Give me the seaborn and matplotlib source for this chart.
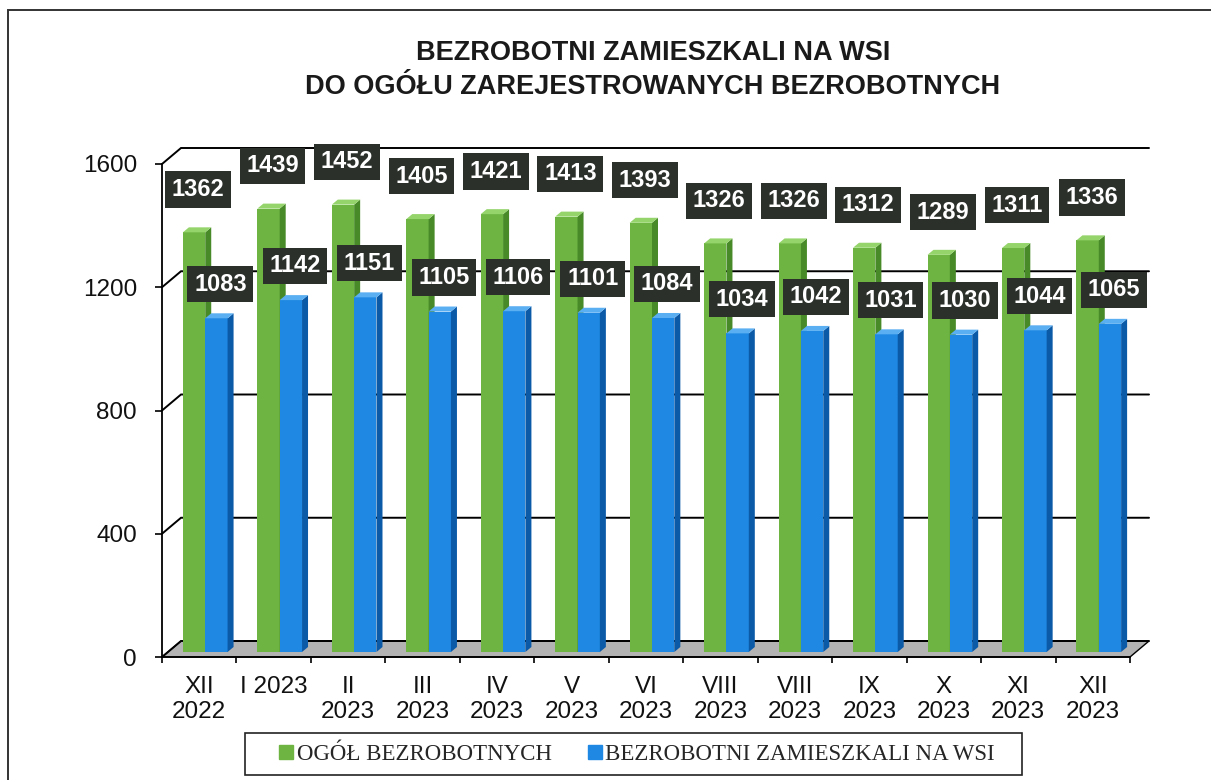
import numpy as np
import pandas as pd
import matplotlib
matplotlib.use("Agg")
import matplotlib.pyplot as plt
import seaborn as sns
from matplotlib.patches import Polygon, Rectangle
from matplotlib.lines import Line2D

# ---------------- data ----------------
months = ["XII\n2022", "I 2023", "II\n2023", "III\n2023", "IV\n2023", "V\n2023",
          "VI\n2023", "VIII\n2023", "VIII\n2023", "IX\n2023", "X\n2023",
          "XI\n2023", "XII\n2023"]
ogol = [1362, 1439, 1452, 1405, 1421, 1413, 1393, 1326, 1326, 1312, 1289, 1311, 1336]
wies = [1083, 1142, 1151, 1105, 1106, 1101, 1084, 1034, 1042, 1031, 1030, 1044, 1065]
series_names = ["OGÓŁ BEZROBOTNYCH", "BEZROBOTNI ZAMIESZKALI NA WSI"]
yticks = [0, 400, 800, 1200, 1600]
title_lines = ["BEZROBOTNI ZAMIESZKALI NA WSI", "DO OGÓŁU ZAREJESTROWANYCH BEZROBOTNYCH"]

# ---------------- style ----------------
sns.set_style("white")
plt.rcParams["font.family"] = ["Liberation Sans", "DejaVu Sans"]

GREEN = "#6db443"
GREEN_SIDE = "#478a27"
GREEN_TOP = "#94d46a"
BLUE = "#1e88e2"
BLUE_SIDE = "#0b5aa8"
BLUE_TOP = "#5aaef2"
LABEL_BG = "#2b302b"

W, H = 1211, 780
fig = plt.figure(figsize=(W / 100, H / 100), dpi=100)

# axes placed in pixel geometry
ax_l, ax_r, ax_b, ax_t = 162, 1130, 657, 164
ax = fig.add_axes([ax_l / W, 1 - ax_b / H, (ax_r - ax_l) / W, (ax_b - ax_t) / H])

n = len(months)
df = pd.DataFrame({
    "idx": list(range(n)) * 2,
    "value": ogol + wies,
    "series": [series_names[0]] * n + [series_names[1]] * n,
})

sns.barplot(data=df, x="idx", y="value", hue="series", hue_order=series_names,
            palette=[GREEN, BLUE], width=0.6, saturation=1, legend=False,
            linewidth=0, edgecolor="none", ax=ax)

ax.set_xlim(-0.5, n - 0.5)
ax.set_ylim(0, 1600)
ax.set_xlabel("")
ax.set_ylabel("")

# pixel -> data conversions
ppx = (ax_r - ax_l) / n
ppy = (ax_b - ax_t) / 1600.0
def dx(px):
    return px / ppx
def dy(px):
    return px / ppy

WX, WY = dx(19), dy(16)      # wall depth
SX, SY = dx(6), dy(5)        # bar shift into depth
BX, BY = dx(6), dy(5)        # bar depth

# floor
floor = Polygon([(-0.5, 0), (n - 0.5, 0), (n - 0.5 + WX, WY), (-0.5 + WX, WY)],
                closed=True, facecolor="#b3b3b3", edgecolor="black", lw=1.0,
                zorder=0.5, clip_on=False)
ax.add_patch(floor)

# grid lines on back wall with left side connectors
for v in yticks:
    ax.plot([-0.5, -0.5 + WX, n - 0.5 + WX], [v, v + WY, v + WY],
            color="black", lw=1.4, zorder=0.8, clip_on=False,
            solid_joinstyle="miter")

# 3-D bars built from seaborn's bar patches
cols = [(GREEN, GREEN_SIDE, GREEN_TOP), (BLUE, BLUE_SIDE, BLUE_TOP)]
label_off = [155, 127]
for si, cont in enumerate(ax.containers):
    front_c, side_c, top_c = cols[si]
    zf = 2 + si * 0.2
    for bar in cont:
        x0 = bar.get_x() + SX
        w = bar.get_width()
        h = bar.get_height()
        x1 = x0 + w
        y0 = SY
        y1 = h + SY
        bar.set_x(x0)
        bar.set_y(y0)
        bar.set_zorder(zf)
        bar.set_clip_on(False)
        side = Polygon([(x1, y0), (x1 + BX, y0 + BY), (x1 + BX, y1 + BY), (x1, y1)],
                       closed=True, facecolor=side_c, edgecolor="none",
                       zorder=zf + 0.1, clip_on=False)
        top = Polygon([(x0, y1), (x1, y1), (x1 + BX, y1 + BY), (x0 + BX, y1 + BY)],
                      closed=True, facecolor=top_c, edgecolor="none",
                      zorder=zf + 0.1, clip_on=False)
        ax.add_patch(side)
        ax.add_patch(top)
        ax.text(x0 + w / 2 + dx(4), h + label_off[si], f"{int(round(h))}",
                ha="center", va="center", color="white", fontsize=17,
                fontweight="bold", zorder=5 + si, clip_on=False,
                bbox=dict(boxstyle="square,pad=0.28", facecolor=LABEL_BG,
                          edgecolor="none"))

# spines and ticks
for s in ["top", "right"]:
    ax.spines[s].set_visible(False)
for s in ["left", "bottom"]:
    ax.spines[s].set_visible(True)
    ax.spines[s].set_color("black")
    ax.spines[s].set_linewidth(1.3)
    ax.spines[s].set_zorder(1)

ax.set_yticks(yticks)
ax.set_yticklabels([str(v) for v in yticks])
ax.set_xticks(range(n))
ax.set_xticklabels(months, linespacing=1.15)
ax.set_xticks(np.arange(-0.5, n, 1.0), minor=True)
ax.tick_params(axis="y", which="major", left=True, direction="out", length=5,
               width=1.2, color="black", pad=13, labelsize=17.5, labelcolor="#111111")
ax.tick_params(axis="x", which="major", bottom=True, length=0, pad=14,
               labelsize=17.5, labelcolor="#111111")
ax.tick_params(axis="x", which="minor", bottom=True, direction="out", length=4.5,
               width=1.2, color="black")
ax.set_facecolor("none")

# title
fig.text(653 / W, 1 - 53 / H, title_lines[0], ha="center", va="center",
         fontsize=19.5, fontweight="bold", color="#1a1a1a")
fig.text(653 / W, 1 - 87 / H, title_lines[1], ha="center", va="center",
         fontsize=19.5, fontweight="bold", color="#1a1a1a")

# legend
handles = [Line2D([], [], marker="s", ls="", color=GREEN, markersize=9.5),
           Line2D([], [], marker="s", ls="", color=BLUE, markersize=9.5)]
fig.legend(handles, series_names, loc="center", ncol=2,
           bbox_to_anchor=(636 / W, 1 - 754 / H), frameon=False,
           prop={"family": ["Liberation Serif", "DejaVu Serif"], "size": 16.5},
           handletextpad=0.05, columnspacing=1.5, handlelength=0.8)
fig.add_artist(Rectangle((245 / W, 1 - 775 / H), (1022 - 245) / W, 42 / H,
                         transform=fig.transFigure, facecolor="none",
                         edgecolor="#222222", lw=1.2))

# outer frame (top and left edges visible)
fig.add_artist(Rectangle((8 / W, -0.02), 1.05, 1 - 10 / H + 0.02,
                         transform=fig.transFigure, facecolor="none",
                         edgecolor="#333333", lw=1.4, clip_on=False))

fig.savefig("out.png", dpi=100)
